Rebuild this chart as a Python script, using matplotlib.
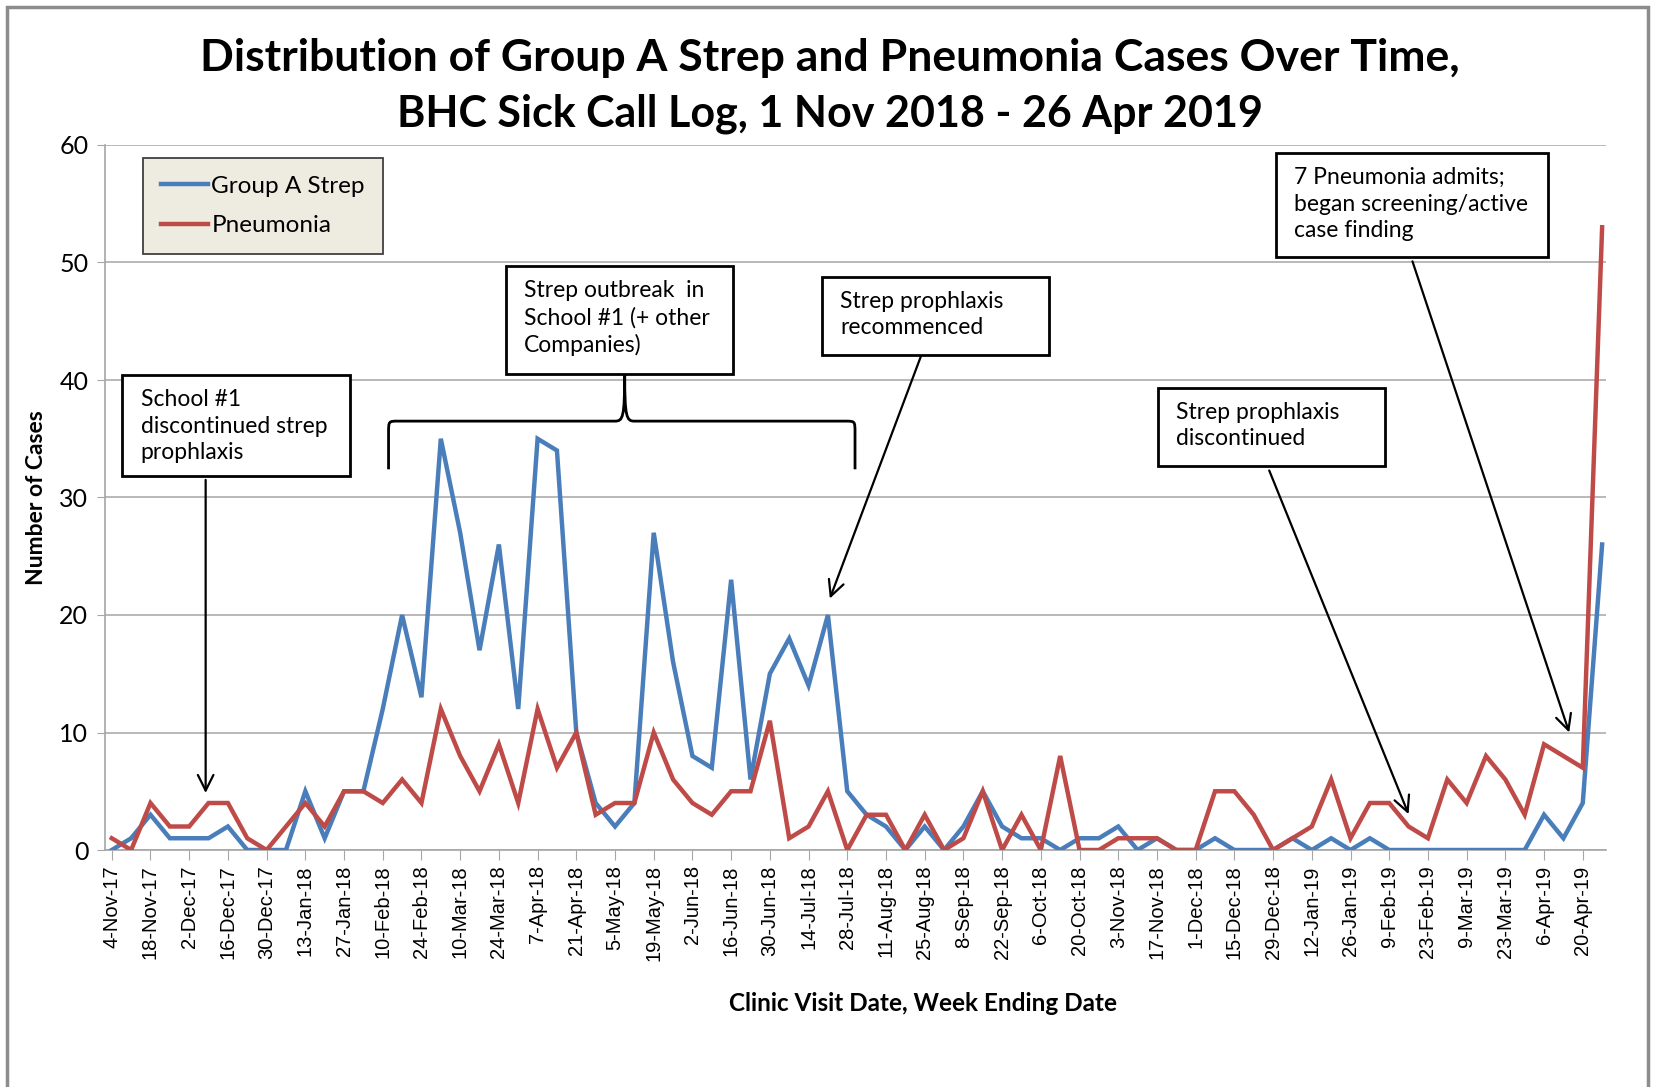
import matplotlib
matplotlib.use("Agg")
import matplotlib.pyplot as plt
import matplotlib.patches as mpatches
from matplotlib.path import Path
import numpy as np

# weekly counts, week ending 4-Nov-17 .. 27-Apr-19
strep = [0, 1, 3, 1, 1, 1, 2, 0, 0, 0,
         5, 1, 5, 5, 12, 20, 13, 35, 27, 17,
         26, 12, 35, 34, 10, 4, 2, 4, 27, 16,
         8, 7, 23, 6, 15, 18, 14, 20, 5, 3,
         2, 0, 2, 0, 2, 5, 2, 1, 1, 0,
         1, 1, 2, 0, 1, 0, 0, 1, 0, 0,
         0, 1, 0, 1, 0, 1, 0, 0, 0, 0,
         0, 0, 0, 0, 3, 1, 4, 26]
pneumonia = [1, 0, 4, 2, 2, 4, 4, 1, 0, 2,
             4, 2, 5, 5, 4, 6, 4, 12, 8, 5,
             9, 4, 12, 7, 10, 3, 4, 4, 10, 6,
             4, 3, 5, 5, 11, 1, 2, 5, 0, 3,
             3, 0, 3, 0, 1, 5, 0, 3, 0, 8,
             0, 0, 1, 1, 1, 0, 0, 5, 5, 3,
             0, 1, 2, 6, 1, 4, 4, 2, 1, 6,
             4, 8, 6, 3, 9, 8, 7, 53]

tick_labels = ["4-Nov-17", "18-Nov-17", "2-Dec-17", "16-Dec-17", "30-Dec-17",
               "13-Jan-18", "27-Jan-18", "10-Feb-18", "24-Feb-18", "10-Mar-18",
               "24-Mar-18", "7-Apr-18", "21-Apr-18", "5-May-18", "19-May-18",
               "2-Jun-18", "16-Jun-18", "30-Jun-18", "14-Jul-18", "28-Jul-18",
               "11-Aug-18", "25-Aug-18", "8-Sep-18", "22-Sep-18", "6-Oct-18",
               "20-Oct-18", "3-Nov-18", "17-Nov-18", "1-Dec-18", "15-Dec-18",
               "29-Dec-18", "12-Jan-19", "26-Jan-19", "9-Feb-19", "23-Feb-19",
               "9-Mar-19", "23-Mar-19", "6-Apr-19", "20-Apr-19"]

BLUE = "#4a7ebb"
RED = "#be4b48"
GRID = "#a6a6a6"
TXT = "Lato"

weeks = np.arange(len(strep))

fig = plt.figure(figsize=(16.53, 10.87), dpi=100)
ax = fig.add_axes([105 / 1653, 237 / 1087, 1501 / 1653, 705 / 1087])

ax.plot(weeks, strep, color=BLUE, lw=3.2, label="Group A Strep", zorder=3,
        solid_joinstyle="miter")
ax.plot(weeks, pneumonia, color=RED, lw=3.2, label="Pneumonia", zorder=3,
        solid_joinstyle="miter")

ax.set_xlim(-0.35, 77.2)
ax.set_ylim(0, 60)
ax.set_yticks(range(0, 61, 10))
ax.yaxis.grid(True, color=GRID, lw=1.1)
ax.set_axisbelow(True)
ax.set_xticks(weeks[::2])
ax.set_xticklabels(tick_labels, rotation=90, fontsize=14.5,
                   family="Liberation Sans")
for lab in ax.get_yticklabels():
    lab.set_fontfamily(TXT)
    lab.set_fontsize(18)
ax.tick_params(axis="x", length=7, color=GRID, pad=4)
ax.tick_params(axis="y", length=6, color=GRID, pad=6)
for s in ["top", "right"]:
    ax.spines[s].set_visible(False)
for s in ["left", "bottom"]:
    ax.spines[s].set_color(GRID)
    ax.spines[s].set_linewidth(1.2)

ax.set_ylabel("Number of Cases", fontsize=16.5, fontweight="bold", family=TXT,
              labelpad=9)
ax.set_xlabel("Clinic Visit Date, Week Ending Date", fontsize=17.5,
              fontweight="bold", family=TXT, labelpad=22)
ax.xaxis.label.set_x(0.545)

fig.text(0.502, 1 - 58 / 1087, "Distribution of Group A Strep and Pneumonia Cases Over Time,",
         ha="center", va="center", fontsize=32, fontweight="bold", family=TXT)
fig.text(0.502, 1 - 114 / 1087, "BHC Sick Call Log, 1 Nov 2018 - 26 Apr 2019",
         ha="center", va="center", fontsize=31, fontweight="bold", family=TXT)

leg = ax.legend(loc="upper left", bbox_to_anchor=(0.019, 0.996),
                prop={"family": TXT, "size": 17.5}, handlelength=1.9,
                handletextpad=0.15, labelspacing=0.75, borderpad=0.75,
                borderaxespad=0.4, fancybox=False, framealpha=1)
leg.get_frame().set_facecolor("#eeece1")
leg.get_frame().set_edgecolor("#404040")
leg.get_frame().set_linewidth(1.3)

# annotation boxes: (x0, x1, y0, y1) in week / case units, text
boxes = [
    ((0.54, 12.3, 31.8, 40.4), "School #1\ndiscontinued strep\nprophlaxis"),
    ((20.36, 32.1, 40.5, 49.7), "Strep outbreak  in\nSchool #1 (+ other\nCompanies)"),
    ((36.7, 48.4, 42.1, 48.8), "Strep prophlaxis\nrecommenced"),
    ((54.05, 65.8, 32.7, 39.35), "Strep prophlaxis\ndiscontinued"),
    ((60.15, 74.2, 50.5, 59.3), "7 Pneumonia admits;\nbegan screening/active\ncase finding"),
]
for (x0, x1, y0, y1), txt in boxes:
    ax.add_patch(mpatches.Rectangle((x0, y0), x1 - x0, y1 - y0, facecolor="white",
                                    edgecolor="black", lw=2, zorder=5))
    ax.text(x0 + 0.95, y1 - 1.2, txt, ha="left", va="top", fontsize=16.5,
            family=TXT, linespacing=1.32, zorder=6)

arrows = [
    ((4.85, 31.5), (4.85, 4.85)),
    ((41.8, 42.0), (37.1, 21.4)),
    ((59.8, 32.3), (67.0, 3.05)),
    ((67.2, 50.1), (75.3, 10.0)),
]
for tail, tip in arrows:
    ax.annotate("", xy=tip, xytext=tail, zorder=6,
                arrowprops=dict(arrowstyle="->", lw=1.6, color="black",
                                mutation_scale=28, shrinkA=0, shrinkB=0))

# curly brace under the outbreak box
x0, x1, xm = 14.3, 38.4, 26.5
yb, yh, yp = 32.4, 36.5, 40.5
codes = [Path.MOVETO, Path.LINETO, Path.CURVE4, Path.CURVE4, Path.CURVE4,
         Path.LINETO, Path.CURVE4, Path.CURVE4, Path.CURVE4,
         Path.MOVETO, Path.CURVE4, Path.CURVE4, Path.CURVE4,
         Path.LINETO, Path.CURVE4, Path.CURVE4, Path.CURVE4, Path.LINETO]
verts = [(x0, yb), (x0, yh - 1.0),
         (x0, yh), (x0, yh), (x0 + 0.5, yh),
         (xm - 0.5, yh),
         (xm - 0.1, yh), (xm, yh + 0.3), (xm, yp),
         (xm, yp),
         (xm, yh + 0.3), (xm + 0.1, yh), (xm + 0.5, yh),
         (x1 - 0.5, yh),
         (x1, yh), (x1, yh), (x1, yh - 1.0),
         (x1, yb)]
ax.add_patch(mpatches.PathPatch(Path(verts, codes), facecolor="none",
                                edgecolor="black", lw=2, zorder=4))

# outer chart border (runs off the bottom of the picture)
fig.patches.append(mpatches.Rectangle((7 / 1653, -0.05), 1641 / 1653, 1.05 - 7 / 1087,
                                      transform=fig.transFigure, fill=False,
                                      edgecolor="#8c8c8c", lw=2.5))

fig.savefig("out.png", dpi=100)
